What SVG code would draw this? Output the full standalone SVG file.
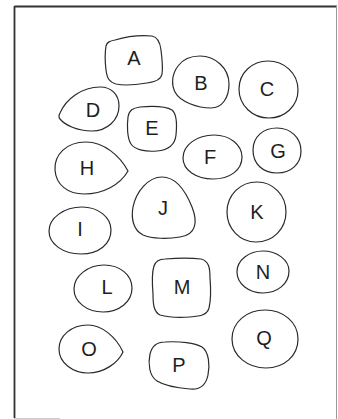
<svg xmlns="http://www.w3.org/2000/svg" width="338" height="419" viewBox="0 0 338 419">
<style>
.s{fill:none;stroke:#2a2a2a;stroke-width:1.2}
.t{font-family:"Liberation Sans",Arial,sans-serif;font-size:20px;fill:#1e1e1e;text-anchor:middle}
</style>
<rect x="0" y="0" width="338" height="419" fill="#fff"/>
<g id="frame">
<line x1="14.5" y1="6.5" x2="337" y2="6.5" stroke="#333" stroke-width="1.8"/>
<line x1="14.5" y1="6" x2="14.5" y2="418" stroke="#333" stroke-width="1.8"/>
<line x1="336.5" y1="6" x2="336.5" y2="419" stroke="#999" stroke-width="1"/>
<line x1="14" y1="418.5" x2="60" y2="418.5" stroke="#ccc" stroke-width="1"/>
</g>
<g id="A"><path class="s" d="M115,40 C125,37 140,35 152,36 C158,37 160,42 161,50 C162,58 163,68 162,74 C161,80 155,82 147,83 C135,85 125,86 116,84 C109,82 107,78 106,70 C105,62 105,52 106,46 C107,42 110,41 115,40 Z"/><text class="t" x="134" y="65">A</text></g>
<g id="B"><path class="s" d="M200,56 C215,56 229,68 229,84 C229,98 222,108 211,108 C198,108 180,102 175,92 C171,84 172,74 178,66 C183,59 191,56 200,56 Z"/><text class="t" x="201" y="90">B</text></g>
<g id="C"><path class="s" d="M268,61 C284,61 298,73 298,90 C298,106 285,118 269,118 C252,118 239,105 239,89 C239,73 252,61 268,61 Z"/><text class="t" x="267" y="96">C</text></g>
<g id="D"><path class="s" d="M60,113 C66,99 82,87 100,87 C112,87 119,95 119,106 C119,120 107,131 92,131 C77,131 65,125 60,119 C58,117 59,115 60,113 Z"/><text class="t" x="93" y="117">D</text></g>
<g id="E"><path class="s" d="M140,107 C152,106 165,106 172,110 C177,114 177,125 176,135 C175,145 168,150 157,151 C146,152 135,150 131,144 C127,138 127,125 128,117 C129,110 133,108 140,107 Z"/><text class="t" x="152" y="135">E</text></g>
<g id="F"><path class="s" d="M214,135 C230,135 242,145 242,157 C242,170 230,179 213,179 C196,179 183,170 183,158 C183,145 197,135 214,135 Z"/><text class="t" x="210" y="164">F</text></g>
<g id="G"><path class="s" d="M277,128 C291,128 301,138 301,151 C301,164 291,173 277,173 C263,173 253,164 253,150 C253,137 263,128 277,128 Z"/><text class="t" x="278" y="158">G</text></g>
<g id="H"><path class="s" d="M128,171 C120,156 104,142 86,142 C66,142 54,155 55,170 C56,185 68,194 84,194 C103,194 120,185 128,171 Z"/><text class="t" x="87" y="175">H</text></g>
<g id="I"><path class="s" d="M82,207 C98,207 111,217 111,230 C111,244 99,254 81,254 C63,254 49,244 49,231 C49,218 64,207 82,207 Z"/><text class="t" x="80" y="236">I</text></g>
<g id="J"><path class="s" d="M162,177 C176,177 186,192 192,207 C198,222 196,235 180,237 C168,239 152,239 143,235 C133,230 131,218 133,207 C136,192 148,177 162,177 Z"/><text class="t" x="163" y="215">J</text></g>
<g id="K"><path class="s" d="M257,182 C273,182 286,195 286,212 C286,229 273,242 256,242 C240,242 227,229 227,212 C227,195 240,182 257,182 Z"/><text class="t" x="257" y="219">K</text></g>
<g id="L"><path class="s" d="M104,265 C120,265 132,275 132,288 C132,302 119,312 103,312 C87,312 74,302 74,289 C74,276 88,265 104,265 Z"/><text class="t" x="107" y="294">L</text></g>
<g id="M"><path class="s" d="M165,259 C178,258 192,258 201,259 C209,261 210,268 210,278 C211,290 211,300 209,308 C207,315 201,316 190,317 C178,318 167,317 160,315 C154,312 153,305 153,294 C152,282 152,272 154,266 C156,260 160,259 165,259 Z"/><text class="t" x="182" y="294">M</text></g>
<g id="N"><path class="s" d="M263,251 C277,251 289,260 289,271 C289,284 277,293 263,293 C249,293 237,284 237,272 C237,260 249,251 263,251 Z"/><text class="t" x="263" y="279">N</text></g>
<g id="O"><path class="s" d="M123,352 C116,337 102,325 88,325 C71,325 59,336 59,349 C59,363 73,373 88,373 C104,373 118,363 123,352 Z"/><text class="t" x="89" y="356">O</text></g>
<g id="P"><path class="s" d="M165,342 C180,341 195,343 202,347 C209,352 210,365 208,375 C206,385 200,390 190,389 C178,388 165,386 157,381 C149,376 148,363 150,354 C152,346 157,342 165,342 Z"/><text class="t" x="179" y="372">P</text></g>
<g id="Q"><path class="s" d="M265,310 C283,310 298,322 298,339 C298,356 284,368 266,368 C248,368 232,356 232,339 C232,322 247,310 265,310 Z"/><text class="t" x="264" y="345">Q</text></g>
</svg>
